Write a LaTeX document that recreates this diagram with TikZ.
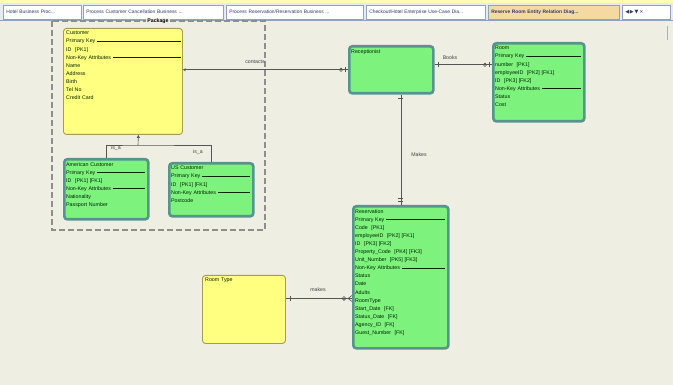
\documentclass[tikz,border=0pt]{standalone}
\usepackage{fontspec}
\setmainfont{Liberation Sans}
\newfontfamily\symfont{DejaVu Sans}
\usetikzlibrary{arrows.meta}
\definecolor{canvasbg}{HTML}{EFEEE3}
\definecolor{tabbar}{HTML}{E6EAF2}
\definecolor{tabedge}{HTML}{8FA2C2}
\definecolor{tabtext}{HTML}{2E3A66}
\definecolor{acttab}{HTML}{F4D9A2}
\definecolor{gfill}{HTML}{7DF27D}
\definecolor{gedge}{HTML}{58948F}
\definecolor{yfill}{HTML}{FFFF80}
\definecolor{yedge}{HTML}{A8985A}
\definecolor{frame}{HTML}{8E8E8E}
\definecolor{conncol}{HTML}{555555}
\newcommand{\sepl}[1]{#1\hspace{2pt}\leaders\hrule height 2.1pt depth -1.6pt\hfill\null}
\tikzset{
  greenent/.style={draw=gedge, line width=2.6pt, fill=gfill, rounded corners=3pt, inner sep=0pt, anchor=north west},
  yellowent/.style={draw=yedge, line width=0.9pt, fill=yfill, rounded corners=3pt, inner sep=0pt, anchor=north west},
  etext/.style={inner sep=0pt, anchor=north west, align=left, font=\fontsize{5.3}{8.1}\selectfont, text=black!85!green},
  conn/.style={draw=conncol, line width=0.6pt},
  rlabel/.style={font=\fontsize{5.2}{6}\selectfont, text=black!75, inner sep=1pt},
  tabbox/.style={draw=tabedge, fill=white, line width=0.5pt, inner ysep=0pt, inner xsep=3pt, anchor=north west, minimum height=14pt, align=left, font=\fontsize{4.9}{6}\selectfont, text=tabtext},
}
\begin{document}
\begin{tikzpicture}[x=1pt,y=-1pt]
\useasboundingbox (0,0) rectangle (673,385);
% canvas and tab bar
\fill[canvasbg] (0,0) rectangle (673,385);
\fill[tabbar] (0,0) rectangle (673,21);
\fill[yfill!60!white] (0,0) rectangle (673,3);
\draw[tabedge, line width=0.5pt] (0,20.5) -- (673,20.5);
\node[tabbox, text width=72pt] (t1) at (3,5) {Hotel Business Proc...};
\node[tabbox, text width=134pt] (t2) at (83,5) {Process Customer Cancellation Business ...};
\node[tabbox, text width=131pt] (t3) at (226,5) {Process Reservation/Reservation Business ...};
\node[tabbox, text width=113pt] (t4) at (366,5) {Checkout/Hotel Enterprise Use-Case Dia...};
\node[tabbox, fill=acttab, text width=125pt, font=\fontsize{4.9}{6}\selectfont\bfseries] (t5) at (488,5) {Reserve Room Entity Relation Diag...};
\node[tabbox, text width=42pt, font=\fontsize{5}{6}\symfont] (t6) at (622,5) {◀\,▶\,▼\,×};
\draw[frame!70, line width=0.8pt] (667,26) -- (667,40);
% package frame
\draw[frame, line width=1.1pt, dash pattern=on 6pt off 3pt] (52,21) rectangle (265,230);
\node[font=\fontsize{5.2}{6}\selectfont\bfseries, fill=canvasbg, inner sep=1pt] (pkg) at (158,21) {Package};
% entities
\node[yellowent, minimum width=119pt, minimum height=106pt] (cust) at (63,28) {};
\node[etext, text width=115pt] (custt) at ([shift={(3pt,-3pt)}]cust.north west) {Customer\\ \sepl{Primary Key}\\ ID\ \ [PK1]\\ \sepl{Non-Key Attributes}\\ Name\\ Address\\ Birth\\ Tel No\\ Credit Card};
\node[greenent, minimum width=84pt, minimum height=60pt] (amc) at (63,158) {};
\node[etext, text width=79pt] (amct) at ([shift={(3pt,-4pt)}]amc.north west) {American Customer\\ \sepl{Primary Key}\\ ID\ \ [PK1]\ [FK1]\\ \sepl{Non-Key Attributes}\\ Nationality\\ Passport Number};
\node[greenent, minimum width=84pt, minimum height=53pt] (usc) at (168,162) {};
\node[etext, text width=79pt] (usct) at ([shift={(3pt,-4pt)}]usc.north west) {US Customer\\ \sepl{Primary Key}\\ ID\ \ [PK1]\ [FK1]\\ \sepl{Non-Key Attributes}\\ Postcode};
\node[greenent, minimum width=84pt, minimum height=47pt] (recep) at (348,45) {};
\node[etext, text width=79pt] (recept) at ([shift={(3pt,-4pt)}]recep.north west) {Receptionist};
\node[greenent, minimum width=91pt, minimum height=78pt] (room) at (492,42) {};
\node[etext, text width=86pt] (roomt) at ([shift={(3pt,-4pt)}]room.north west) {Room\\ \sepl{Primary Key}\\ number\ \ [PK1]\\ employeeID\ \ [PK2]\ [FK1]\\ ID\ \ [PK3]\ [FK2]\\ \sepl{Non-Key Attributes}\\ Status\\ Cost};
\node[greenent, minimum width=95pt, minimum height=142pt] (resv) at (352,205) {};
\node[etext, text width=90pt] (resvt) at ([shift={(3pt,-4pt)}]resv.north west) {Reservation\\ \sepl{Primary Key}\\ Code\ \ [PK1]\\ employeeID\ \ [PK2]\ [FK1]\\ ID\ \ [PK3]\ [FK2]\\ Property\_Code\ \ [PK4]\ [FK3]\\ Unit\_Number\ \ [PK5]\ [FK3]\\ \sepl{Non-Key Attributes}\\ Status\\ Date\\ Adults\\ RoomType\\ Start\_Date\ \ [FK]\\ Status\_Date\ \ [FK]\\ Agency\_ID\ \ [FK]\\ Guest\_Number\ \ [FK]};
\node[yellowent, minimum width=83pt, minimum height=68pt] (rtype) at (202,275) {};
\node[etext, text width=78pt] (rtypet) at ([shift={(3pt,-3pt)}]rtype.north west) {Room Type};
% inheritance
\coordinate (inhj) at (138,145);
\draw[conn, -{Triangle[length=3pt,width=3pt]}] (inhj) -- ([xshift=15.5pt]cust.south);
\draw[conn] (amc.north) |- (inhj) -| (usc.north);
\node[rlabel] (isa1) at (116,148) {is\_a};
\node[rlabel] (isa2) at (198,152) {is\_a};
% contacts
\draw[conn, {Stealth[length=3pt,width=3pt]}-] (recep.west -| cust.east) -- (recep.west);
\draw[conn] ([xshift=-7pt]recep.west) circle (1.7pt);
\draw[conn] ([xshift=-3pt,yshift=-2.5pt]recep.west) -- ([xshift=-3pt,yshift=2.5pt]recep.west);
\node[rlabel] (lcont) at (255,62) {contacts};
% books
\draw[conn] ([yshift=5pt]recep.east) -- ([yshift=5pt]recep.east -| room.west);
\draw[conn] ([shift={(4pt,5pt)}]recep.east) ++(0,-2.5pt) -- ++(0,5pt);
\draw[conn] ([shift={(-7pt,5pt)}]recep.east -| room.west) circle (1.7pt);
\draw[conn] ([shift={(-3pt,2.5pt)}]recep.east -| room.west) -- ([shift={(-3pt,7.5pt)}]recep.east -| room.west);
\node[rlabel] (lbook) at (450,58) {Books};
% makes (vertical)
\draw[conn] (resv.north |- recep.south) -- (resv.north);
\draw[conn] ([yshift=-4pt]resv.north |- recep.south) ++(-2.5pt,0) -- ++(5pt,0);
\draw[conn] ([yshift=4pt]resv.north) ++(-2.5pt,0) -- ++(5pt,0);
\draw[conn] ([yshift=7pt]resv.north) ++(-2.5pt,0) -- ++(5pt,0);
\node[rlabel] (lmake1) at (419,155) {Makes};
% makes (bottom)
\draw[conn] ([yshift=11pt]rtype.east) -- ([yshift=11pt]rtype.east -| resv.west);
\draw[conn] ([shift={(4pt,8.5pt)}]rtype.east) -- ([shift={(4pt,13.5pt)}]rtype.east);
\draw[conn] ([shift={(-8pt,11pt)}]rtype.east -| resv.west) circle (1.9pt);
\draw[conn] ([shift={(-4pt,11pt)}]rtype.east -| resv.west) -- ([shift={(0pt,8pt)}]rtype.east -| resv.west);
\draw[conn] ([shift={(-4pt,11pt)}]rtype.east -| resv.west) -- ([shift={(0pt,14pt)}]rtype.east -| resv.west);
\node[rlabel] (lmake2) at (318,290) {makes};
\end{tikzpicture}
\end{document}
